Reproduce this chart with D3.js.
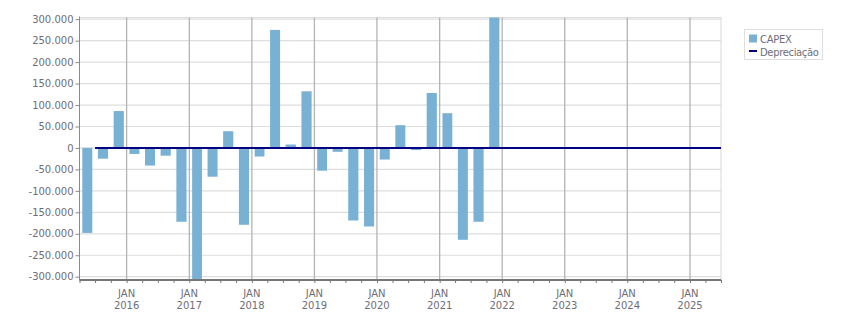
<!DOCTYPE html>
<meta charset="utf-8">
<script src="https://d3js.org/d3.v7.min.js"></script>
<style>
  body { margin: 0; background: #fff; }
  text { font-family: "DejaVu Sans", sans-serif; font-size: 10px; fill: #6e6e78; }
</style>
<div id="my_dataviz"></div>
<script>
    // quarterly CAPEX (quarter start dates) and values
    var quarters = ["2015-04-01","2015-07-01","2015-10-01",
                    "2016-01-01","2016-04-01","2016-07-01","2016-10-01",
                    "2017-01-01","2017-04-01","2017-07-01","2017-10-01",
                    "2018-01-01","2018-04-01","2018-07-01","2018-10-01",
                    "2019-01-01","2019-04-01","2019-07-01","2019-10-01",
                    "2020-01-01","2020-04-01","2020-07-01","2020-10-01",
                    "2021-01-01","2021-04-01","2021-07-01","2021-10-01"]
    var capex = [-198000, -25000, 86000,
                 -14000, -41000, -18000, -172000,
                 -330000, -67000, 39000, -179000,
                 -20000, 275000, 8000, 132000,
                 -53000, -9000, -169000, -183000,
                 -27000, 53000, -5000, 128000,
                 81000, -214000, -172000, 330000]
    // depreciation line (flat at zero)
    var deprDates = ["2015-07-01", "2025-07-01"]
    var depreciacao = [0, 0]

    var yTicks = [-300000,-250000,-200000,-150000,-100000,-50000,0,50000,100000,150000,200000,250000,300000]
    var xTickYears = [2016,2017,2018,2019,2020,2021,2022,2023,2024,2025]

    var width = 851, height = 313
    var plot = {left: 79.5, right: 721, top: 17.5, bottom: 280}

    var parse = d3.timeParse("%Y-%m-%d")
    var loc = d3.formatLocale({decimal: ",", thousands: ".", grouping: [3], currency: ["R$", ""], minus: "-"})
    var fmt = loc.format(",.0f")

    var svg = d3.select("#my_dataviz")
      .append("svg")
        .attr("width", width)
        .attr("height", height)

    var x = d3.scaleTime()
      .domain([parse("2015-04-01"), parse("2025-07-01")])
      .range([plot.left, plot.right])

    var y = d3.scaleLinear()
      .domain([-300000, 300000])
      .range([276.7, 19.2])

    svg.append("defs").append("clipPath").attr("id", "clip")
      .append("rect")
        .attr("x", plot.left).attr("y", plot.top)
        .attr("width", plot.right - plot.left).attr("height", plot.bottom - plot.top)

    // horizontal grid
    svg.append("g").selectAll("line")
      .data(yTicks).enter().append("line")
        .attr("x1", plot.left).attr("x2", plot.right)
        .attr("y1", function(d){ return y(d) }).attr("y2", function(d){ return y(d) })
        .attr("stroke", "#dedede").attr("stroke-width", 1.2)

    // plot border top / right
    svg.append("path")
      .attr("d", "M" + plot.left + "," + plot.top + "H" + plot.right + "V" + plot.bottom)
      .attr("fill", "none").attr("stroke", "#dedede").attr("stroke-width", 1.2)

    // vertical grid at JAN
    var janDates = xTickYears.map(function(yr){ return new Date(yr, 0, 1) })
    svg.append("g").selectAll("line")
      .data(janDates).enter().append("line")
        .attr("x1", function(d){ return x(d) }).attr("x2", function(d){ return x(d) })
        .attr("y1", plot.top).attr("y2", plot.bottom)
        .attr("stroke", "#b4b4b4").attr("stroke-width", 1.3)

    // bars
    var data = quarters.map(function(q, i){ return {date: parse(q), value: capex[i]} })
    svg.append("g").attr("clip-path", "url(#clip)")
      .selectAll("rect")
      .data(data).enter().append("rect")
        .attr("x", function(d){ return x(d.date) + 2.8 })
        .attr("width", function(d){ return x(d3.timeMonth.offset(d.date, 3)) - x(d.date) - 5.6 })
        .attr("y", function(d){ return y(Math.max(0, d.value)) })
        .attr("height", function(d){ return Math.abs(y(d.value) - y(0)) })
        .attr("fill", "#78b1d4")

    // depreciation line
    var deprData = deprDates.map(function(q, i){ return {date: parse(q), value: depreciacao[i]} })
    svg.append("path")
      .datum(deprData)
      .attr("clip-path", "url(#clip)")
      .attr("fill", "none")
      .attr("stroke", "#000080")
      .attr("stroke-width", 2)
      .attr("d", d3.line()
        .x(function(d){ return x(d.date) })
        .y(function(d){ return y(d.value) }))

    // Y axis
    var yAxis = svg.append("g")
      .attr("transform", "translate(" + plot.left + ",0)")
      .call(d3.axisLeft(y).tickValues(yTicks).tickFormat(fmt).tickSize(4).tickPadding(2))
    yAxis.select(".domain").attr("stroke", "#8a8a8a").attr("d", "M0," + (plot.top - 1) + "V" + plot.bottom)
    yAxis.selectAll(".tick line").attr("stroke", "#8a8a8a")
    yAxis.selectAll("text").attr("fill", "#6e6e78").style("font-size", "10px").attr("font-family", null)

    // X axis: quarterly minor ticks, JAN labels
    var xAxis = svg.append("g")
      .attr("transform", "translate(0," + plot.bottom + ")")
      .call(d3.axisBottom(x).ticks(d3.timeMonth.every(3)).tickSize(3).tickFormat(""))
    xAxis.select(".domain").attr("stroke", "#777").attr("stroke-width", 2)
      .attr("d", "M" + plot.left + ",0H" + plot.right)
    xAxis.selectAll(".tick line").attr("stroke", "#777")

    var xl = svg.append("g").selectAll("g")
      .data(janDates).enter().append("g")
        .attr("transform", function(d){ return "translate(" + x(d) + ",0)" })
    xl.append("text").attr("y", 296.5).attr("text-anchor", "middle").text("JAN")
    xl.append("text").attr("y", 309).attr("text-anchor", "middle").text(function(d){ return d.getFullYear() })

    // legend
    var lg = svg.append("g")
    lg.append("rect")
      .attr("x", 744.5).attr("y", 29.5).attr("width", 78).attr("height", 30)
      .attr("fill", "#fff").attr("stroke", "#dedede")
    lg.append("rect")
      .attr("x", 749).attr("y", 34.5).attr("width", 8).attr("height", 8).attr("fill", "#78b1d4")
    lg.append("text").attr("x", 760).attr("y", 42.5).text("CAPEX")
      .attr("fill", "#5a5a66").style("letter-spacing", "-0.3px")
    lg.append("line")
      .attr("x1", 749).attr("x2", 757).attr("y1", 51).attr("y2", 51)
      .attr("stroke", "#000080").attr("stroke-width", 2)
    lg.append("text").attr("x", 760).attr("y", 55.5).text("Depreciação")
      .attr("fill", "#5a5a66").style("letter-spacing", "-0.35px")
</script>
